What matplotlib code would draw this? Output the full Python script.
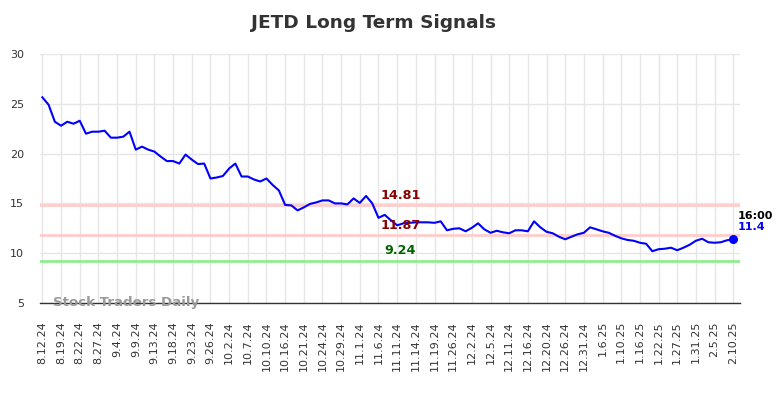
import numpy as np
import matplotlib
matplotlib.use("Agg")
import matplotlib.pyplot as plt

# closing prices, one per plotted session
prices = [25.65, 24.9, 23.2, 22.8, 23.2, 23.0, 23.3, 22.0, 22.2, 22.2,
          22.3, 21.6, 21.6, 21.7, 22.2, 20.4, 20.7, 20.4, 20.2, 19.7,
          19.25, 19.25, 19.0, 19.9, 19.4, 18.95, 19.0, 17.5, 17.6, 17.75,
          18.5, 19.0, 17.7, 17.7, 17.4, 17.2, 17.5, 16.85, 16.3, 14.85,
          14.8, 14.3, 14.6, 14.95, 15.1, 15.3, 15.3, 15.0, 15.0, 14.9,
          15.5, 15.05, 15.75, 15.0, 13.55, 13.85, 13.3, 12.8, 13.0, 13.05,
          13.1, 13.1, 13.1, 13.05, 13.2, 12.3, 12.45, 12.5, 12.2, 12.55,
          13.0, 12.4, 12.05, 12.25, 12.1, 12.0, 12.3, 12.3, 12.2, 13.2,
          12.6, 12.15, 12.0, 11.65, 11.4, 11.65, 11.9, 12.05, 12.6, 12.4,
          12.2, 12.05, 11.75, 11.5, 11.33, 11.25, 11.05, 10.95, 10.2, 10.4,
          10.45, 10.55, 10.3, 10.55, 10.85, 11.25, 11.45, 11.1, 11.05, 11.1,
          11.3, 11.4]

tick_labels = ["8.12.24", "8.19.24", "8.22.24", "8.27.24", "9.4.24", "9.9.24",
               "9.13.24", "9.18.24", "9.23.24", "9.26.24", "10.2.24", "10.7.24",
               "10.10.24", "10.16.24", "10.21.24", "10.24.24", "10.29.24", "11.1.24",
               "11.6.24", "11.11.24", "11.14.24", "11.19.24", "11.26.24", "12.2.24",
               "12.5.24", "12.11.24", "12.16.24", "12.20.24", "12.26.24", "12.31.24",
               "1.6.25", "1.10.25", "1.16.25", "1.22.25", "1.27.25", "1.31.25",
               "2.5.25", "2.10.25"]

resistance_levels = [14.81, 11.87]
support_level = 9.24
last_time = "16:00"

x = np.arange(len(prices))

fig = plt.figure(figsize=(7.84, 3.98), dpi=100)
ax = fig.add_axes([0.0505, 0.2387, 0.8935, 0.6256])

for lvl in resistance_levels:
    ax.axhline(lvl, color="#ffcccc", lw=2, zorder=1)
    ax.text(57.5, lvl + 0.3, "%.2f" % lvl, color="#8b0000", fontsize=9.2,
            fontweight="bold", ha="center", va="bottom", zorder=4)
ax.axhline(support_level, color="#90ee90", lw=2, zorder=1)
ax.text(57.5, support_level + 0.35, "%.2f" % support_level, color="#006400",
        fontsize=9.2, fontweight="bold", ha="center", va="bottom", zorder=4)

ax.plot(x, prices, color="#0000ff", lw=1.5, zorder=3)
ax.plot(x[-1], prices[-1], "o", color="#0000ff", markersize=5.5, zorder=3)
ax.annotate(last_time, (x[-1], prices[-1]), xytext=(3, 17), textcoords="offset points",
            fontsize=8, fontweight="bold", color="black", va="center", ha="left",
            annotation_clip=False)
ax.annotate(str(prices[-1]), (x[-1], prices[-1]), xytext=(3, 8.5), textcoords="offset points",
            fontsize=8, fontweight="bold", color="#0000ff", va="center", ha="left",
            annotation_clip=False)

ax.text(0.019, -0.013, "Stock Traders Daily", transform=ax.transAxes, fontsize=9.6,
        fontweight="bold", color="#999999", ha="left", va="baseline", zorder=5)

ax.set_xlim(-0.45, len(prices) + 0.1)
ax.set_ylim(5, 30)
ax.set_yticks([5, 10, 15, 20, 25, 30])
ax.set_xticks(np.arange(0, len(prices), 3))
ax.set_xticklabels(tick_labels, rotation=90)
ax.tick_params(axis="x", length=0, pad=13, labelsize=8, labelcolor="#333333")
ax.tick_params(axis="y", length=0, pad=11, labelsize=8, labelcolor="#333333")
ax.grid(True, color="#e6e6e6", lw=1)
ax.set_axisbelow(True)
for side in ["left", "right", "top"]:
    ax.spines[side].set_visible(False)
ax.spines["bottom"].set_color("#333333")
ax.spines["bottom"].set_linewidth(1)

fig.suptitle("JETD Long Term Signals", x=0.477, y=0.965, fontsize=13.3,
             fontweight="bold", color="#333333")

fig.savefig("out.png", dpi=100)
